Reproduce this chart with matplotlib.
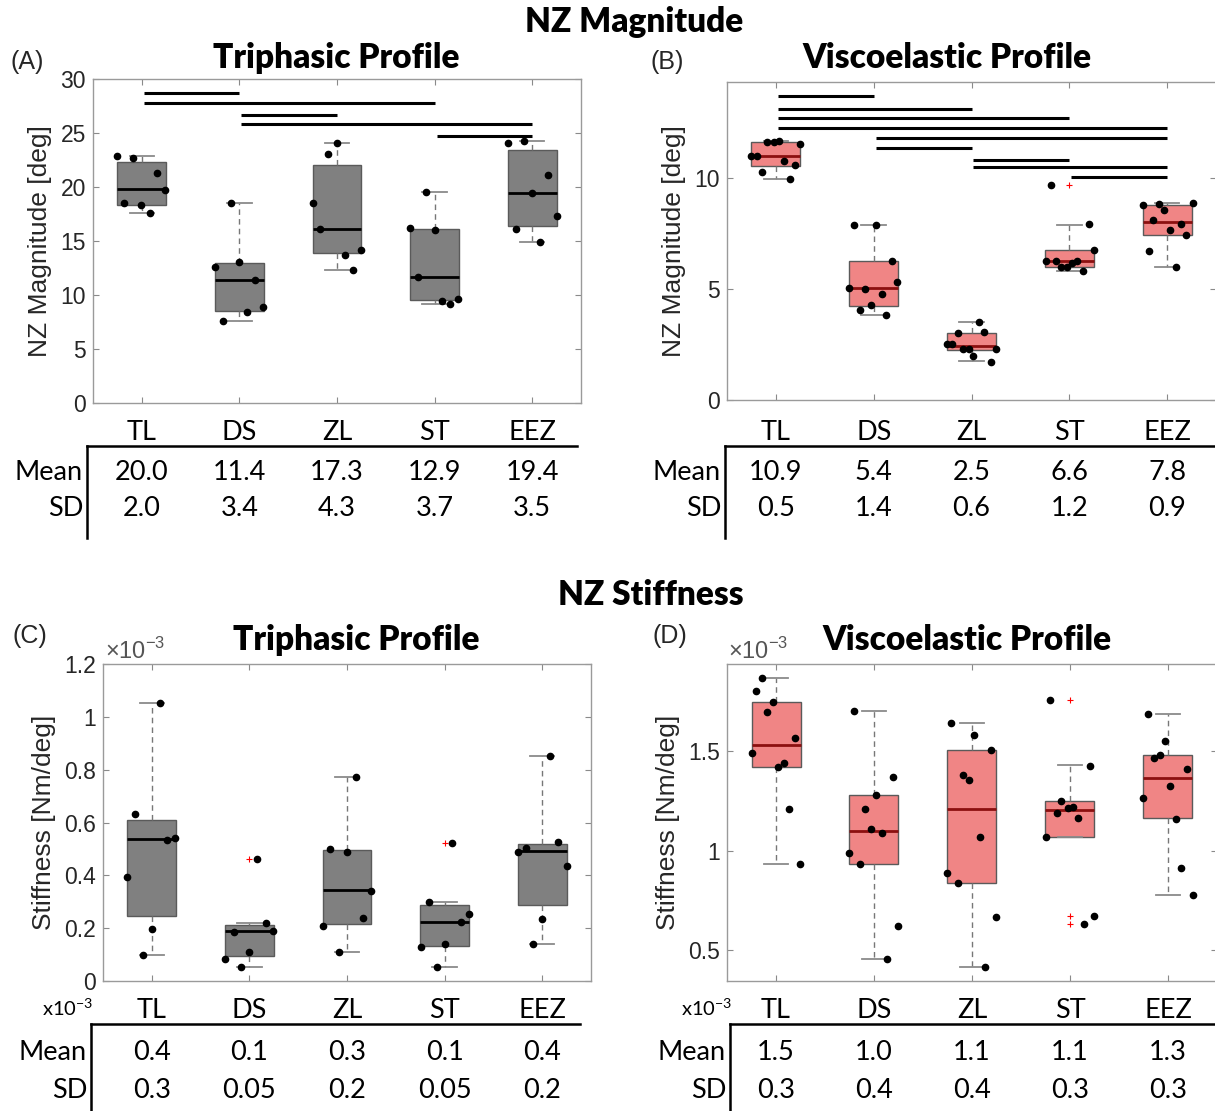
import matplotlib
matplotlib.use("Agg")
import matplotlib.pyplot as plt
from matplotlib.lines import Line2D
from matplotlib.ticker import FuncFormatter

plt.rcParams["font.family"] = ["Liberation Sans", "DejaVu Sans"]
plt.rcParams["mathtext.fontset"] = "custom"
plt.rcParams["mathtext.rm"] = "Liberation Sans"

W, H = 1215, 1111
cats = ["TL", "DS", "ZL", "ST", "EEZ"]

# (A) triphasic NZ magnitude [deg]
a_pts = [[22.9, 22.7, 21.3, 19.7, 18.5, 18.3, 17.6],
         [18.5, 12.6, 13.1, 11.4, 8.9, 8.4, 7.6],
         [24.05, 23.1, 18.5, 16.1, 14.2, 13.7, 12.3],
         [19.5, 16.2, 16.0, 11.7, 9.4, 9.2, 9.65],
         [24.1, 24.3, 21.1, 19.4, 17.3, 16.1, 14.9]]
a_jit = [[-0.25, -0.09, 0.16, 0.24, -0.18, -0.01, 0.08],
         [-0.09, -0.25, 0.0, 0.16, 0.24, 0.08, -0.17],
         [0.0, -0.09, -0.25, -0.17, 0.25, 0.08, 0.16],
         [-0.09, -0.25, 0.0, -0.17, 0.08, 0.16, 0.24],
         [-0.25, -0.08, 0.16, 0.0, 0.25, -0.17, 0.08]]
a_q1 = [18.3, 8.5, 13.9, 9.5, 16.4]
a_med = [19.8, 11.4, 16.1, 11.7, 19.4]
a_q3 = [22.3, 13.0, 22.0, 16.1, 23.4]
a_lo = [17.6, 7.6, 12.3, 9.2, 14.9]
a_hi = [22.9, 18.5, 24.1, 19.5, 24.3]
a_out = [[], [], [], [], []]
a_sig = [(1, 2, 28.7), (1, 4, 27.8), (2, 3, 26.7), (2, 5, 25.8), (4, 5, 24.7)]
a_mean = ["20.0", "11.4", "17.3", "12.9", "19.4"]
a_sd = ["2.0", "3.4", "4.3", "3.7", "3.5"]

# (B) viscoelastic NZ magnitude [deg]
b_pts = [[10.99, 10.96, 11.60, 11.60, 11.63, 11.50, 10.76, 10.57, 10.27, 9.93],
         [7.87, 7.85, 6.24, 5.31, 5.03, 5.01, 4.78, 4.27, 4.06, 3.81],
         [3.52, 3.03, 3.06, 2.54, 2.52, 2.28, 2.28, 2.28, 1.99, 1.72],
         [9.66, 7.90, 6.76, 6.24, 6.24, 6.24, 6.15, 5.96, 5.96, 5.79],
         [8.79, 8.81, 8.85, 8.55, 8.09, 7.90, 7.64, 7.42, 6.69, 5.99]]
b_jit = [[-0.25, -0.19, -0.09, -0.02, 0.03, 0.25, 0.08, 0.20, -0.14, 0.14],
         [-0.20, 0.02, 0.19, 0.24, -0.25, -0.09, 0.08, -0.03, -0.14, 0.13],
         [0.08, -0.14, 0.13, -0.25, -0.20, -0.09, -0.03, 0.25, 0.02, 0.20],
         [-0.19, 0.20, 0.25, -0.24, -0.14, 0.08, 0.03, -0.08, -0.02, 0.14],
         [-0.25, -0.08, 0.26, -0.03, -0.14, 0.14, 0.03, 0.19, -0.19, 0.09]]
b_q1 = [10.54, 4.24, 2.27, 5.96, 7.43]
b_med = [10.99, 5.03, 2.42, 6.25, 8.01]
b_q3 = [11.60, 6.24, 3.03, 6.76, 8.78]
b_lo = [9.93, 3.82, 1.75, 5.79, 5.99]
b_hi = [11.63, 7.87, 3.52, 7.88, 8.84]
b_out = [[], [], [], [9.66], []]
b_sig = [(1, 2, 13.66), (1, 3, 13.09), (1, 4, 12.66), (1, 5, 12.22), (2, 5, 11.78),
         (2, 3, 11.34), (3, 4, 10.81), (3, 5, 10.48), (4, 5, 10.04)]
b_mean = ["10.9", "5.4", "2.5", "6.6", "7.8"]
b_sd = ["0.5", "1.4", "0.6", "1.2", "0.9"]

# (C) triphasic NZ stiffness [x1e-3 Nm/deg]
c_pts = [[1.051, 0.633, 0.541, 0.534, 0.394, 0.197, 0.098],
         [0.460, 0.221, 0.190, 0.187, 0.108, 0.085, 0.053],
         [0.774, 0.501, 0.489, 0.340, 0.240, 0.207, 0.109],
         [0.521, 0.300, 0.255, 0.225, 0.139, 0.129, 0.053],
         [0.852, 0.525, 0.503, 0.489, 0.436, 0.235, 0.139]]
c_jit = [[0.08, -0.17, 0.24, 0.16, -0.25, 0.0, -0.09],
         [0.08, 0.17, 0.24, -0.16, 0.0, -0.25, -0.09],
         [0.09, -0.17, 0.0, 0.25, 0.16, -0.25, -0.08],
         [0.08, -0.16, 0.25, 0.17, 0.0, -0.24, -0.08],
         [0.08, 0.16, -0.17, -0.25, 0.25, 0.0, -0.09]]
c_q1 = [0.246, 0.093, 0.215, 0.133, 0.286]
c_med = [0.536, 0.188, 0.343, 0.224, 0.491]
c_q3 = [0.611, 0.212, 0.497, 0.288, 0.518]
c_lo = [0.098, 0.053, 0.111, 0.053, 0.141]
c_hi = [1.051, 0.221, 0.774, 0.298, 0.852]
c_out = [[], [0.460], [], [0.521], []]
c_mean = ["0.4", "0.1", "0.3", "0.1", "0.4"]
c_sd = ["0.3", "0.05", "0.2", "0.05", "0.2"]

# (D) viscoelastic NZ stiffness [x1e-3 Nm/deg]
d_pts = [[1.871, 1.804, 1.748, 1.698, 1.565, 1.492, 1.441, 1.419, 1.211, 0.931],
         [1.701, 1.372, 1.280, 1.208, 1.109, 1.087, 0.988, 0.931, 0.622, 0.456],
         [1.643, 1.582, 1.508, 1.381, 1.354, 1.069, 0.888, 0.839, 0.664, 0.414],
         [1.758, 1.428, 1.252, 1.216, 1.220, 1.190, 1.163, 1.067, 0.671, 0.629],
         [1.686, 1.554, 1.482, 1.466, 1.409, 1.325, 1.267, 1.161, 0.911, 0.775]]
d_jit = [[-0.14, -0.20, -0.03, -0.09, 0.19, -0.25, 0.08, 0.02, 0.13, 0.24],
         [-0.20, 0.19, 0.02, -0.09, -0.03, 0.08, -0.25, -0.14, 0.24, 0.13],
         [-0.21, 0.02, 0.19, -0.09, -0.03, 0.08, -0.26, -0.14, 0.24, 0.13],
         [-0.20, 0.20, -0.09, -0.02, 0.03, -0.13, 0.08, -0.24, 0.25, 0.14],
         [-0.20, -0.03, -0.08, -0.14, 0.19, 0.02, -0.25, 0.08, 0.13, 0.26]]
d_q1 = [1.421, 0.931, 0.837, 1.067, 1.163]
d_med = [1.530, 1.097, 1.211, 1.203, 1.367]
d_q3 = [1.747, 1.282, 1.505, 1.252, 1.480]
d_lo = [0.933, 0.456, 0.416, 1.067, 0.775]
d_hi = [1.871, 1.701, 1.641, 1.430, 1.685]
d_out = [[], [], [], [1.758, 0.671, 0.629], []]
d_mean = ["1.5", "1.0", "1.1", "1.1", "1.3"]
d_sd = ["0.3", "0.4", "0.4", "0.3", "0.3"]

GRAY = "#808080"
RED = "#f08585"
TFONT = ["Lato", "DejaVu Sans"]

fig = plt.figure(figsize=(W / 100, H / 100), dpi=100)


def fx(x):
    return x / W


def fy(y):
    return 1 - y / H


def panel(box, pts, jit, q1, med, q3, lo, hi, out, face, medc, ylim, yticks, ylabel):
    l, t, r, b = box
    ax = fig.add_axes([fx(l), fy(b), (r - l) / W, (b - t) / H])
    stats = [dict(med=med[i], q1=q1[i], q3=q3[i], whislo=lo[i], whishi=hi[i], fliers=out[i])
             for i in range(5)]
    ax.bxp(stats, positions=range(1, 6), widths=0.5, capwidths=0.25, patch_artist=True,
           boxprops=dict(facecolor=face, edgecolor="#5a5a5a", linewidth=1),
           medianprops=dict(color=medc, linewidth=2),
           whiskerprops=dict(color="#777777", linestyle=(0, (4, 3)), linewidth=1),
           capprops=dict(color="#8a8a8a", linewidth=1.3),
           flierprops=dict(marker="+", markeredgecolor="red", markersize=5, markeredgewidth=0.8))
    for i in range(5):
        ax.plot([i + 1 + j for j in jit[i]], pts[i], "o", color="black", ms=4.5, zorder=5)
    ax.set_xlim(0.5, 5.5)
    ax.set_ylim(*ylim)
    ax.set_xticks(range(1, 6))
    ax.set_xticklabels([])
    ax.set_yticks(yticks)
    ax.yaxis.set_major_formatter(FuncFormatter(lambda v, p: "%g" % round(v, 3)))
    ax.tick_params(direction="in", top=True, right=True, length=4, width=0.8,
                   color="#8a8a8a", labelsize=16.5, labelcolor="#262626", pad=5)
    for s in ax.spines.values():
        s.set_color("#9a9a9a")
        s.set_linewidth(1)
    ax.set_ylabel(ylabel, fontsize=19, color="#262626", labelpad=6)
    return ax


def sig_bars(ax, bars):
    for i, j, y in bars:
        ax.plot([i + 0.02, j], [y, y], color="black", lw=2.2, solid_capstyle="butt", zorder=6)


def table(xs, vline, line_end, y_head, y_line, y_mean, y_sd, means, sds, size, fam, scale=None):
    for x, c, m, s in zip(xs, cats, means, sds):
        fig.text(fx(x), fy(y_head), c, ha="center", va="center", fontsize=size, family=fam)
        fig.text(fx(x), fy(y_mean), m, ha="center", va="center", fontsize=size, family=fam)
        fig.text(fx(x), fy(y_sd), s, ha="center", va="center", fontsize=size, family=fam)
    fig.text(fx(vline - 4), fy(y_mean), "Mean", ha="right", va="center", fontsize=size, family=fam)
    fig.text(fx(vline - 4), fy(y_sd), "SD", ha="right", va="center", fontsize=size, family=fam)
    fig.add_artist(Line2D([fx(vline), fx(line_end)], [fy(y_line), fy(y_line)], color="black", lw=1.8))
    fig.add_artist(Line2D([fx(vline), fx(vline)], [fy(y_line), fy(y_line + 92)], color="black", lw=1.8))
    if scale:
        fig.text(fx(vline + 2), fy(y_head - 2), scale, ha="right", va="center", fontsize=size - 5, family=fam)


def cat_px(l, r):
    return [l + (i + 0.5) * (r - l) / 5 for i in range(5)]


boxA = (93, 79, 581, 403)
boxB = (727, 82, 1216, 400)
boxC = (103, 664, 591, 981)
boxD = (727, 664, 1217, 981)

axA = panel(boxA, a_pts, a_jit, a_q1, a_med, a_q3, a_lo, a_hi, a_out, GRAY, "black",
            (0, 30), range(0, 31, 5), "NZ Magnitude [deg]")
sig_bars(axA, a_sig)
axB = panel(boxB, b_pts, b_jit, b_q1, b_med, b_q3, b_lo, b_hi, b_out, RED, "#8b1010",
            (0, 14.3), [0, 5, 10], "NZ Magnitude [deg]")
sig_bars(axB, b_sig)
axC = panel(boxC, c_pts, c_jit, c_q1, c_med, c_q3, c_lo, c_hi, c_out, GRAY, "black",
            (0, 1.2), [0, 0.2, 0.4, 0.6, 0.8, 1.0, 1.2], "Stiffness [Nm/deg]")
axD = panel(boxD, d_pts, d_jit, d_q1, d_med, d_q3, d_lo, d_hi, d_out, RED, "#8b1010",
            (0.344, 1.939), [0.5, 1.0, 1.5], "Stiffness [Nm/deg]")

# titles
fig.text(fx(634), fy(22), "NZ Magnitude", ha="center", va="center", fontsize=24, weight="heavy", family=TFONT)
fig.text(fx(651), fy(595), "NZ Stiffness", ha="center", va="center", fontsize=24, weight="heavy", family=TFONT)
for x, y, s in [(336, 58, "Triphasic Profile"), (947, 58, "Viscoelastic Profile"),
                (356, 640, "Triphasic Profile"), (967, 640, "Viscoelastic Profile")]:
    fig.text(fx(x), fy(y), s, ha="center", va="center", fontsize=24, weight="heavy", family=TFONT)
for x, y, s in [(10, 62, "(A)"), (650, 62, "(B)"), (12, 636, "(C)"), (652, 636, "(D)")]:
    fig.text(fx(x), fy(y), s, ha="left", va="center", fontsize=18, color="#262626")
for x in (105, 728):
    fig.text(fx(x), fy(651), r"$\times10^{-3}$", ha="left", va="center", fontsize=17, color="#555555")

# tables
table(cat_px(93, 581), 87, 577, 433, 446, 473, 509, a_mean, a_sd, 19.5, TFONT)
table(cat_px(727, 1216), 725, 1215, 433, 446, 473, 509, b_mean, b_sd, 19.5, TFONT)
table(cat_px(103, 591), 91, 580, 1010, 1024, 1053, 1090, c_mean, c_sd, 19.5, TFONT,
      r"x10$^{\mathregular{-3}}$")
table(cat_px(727, 1217), 730, 1215, 1010, 1024, 1053, 1090, d_mean, d_sd, 19.5, TFONT,
      r"x10$^{\mathregular{-3}}$")

fig.savefig("out.png", dpi=100)
